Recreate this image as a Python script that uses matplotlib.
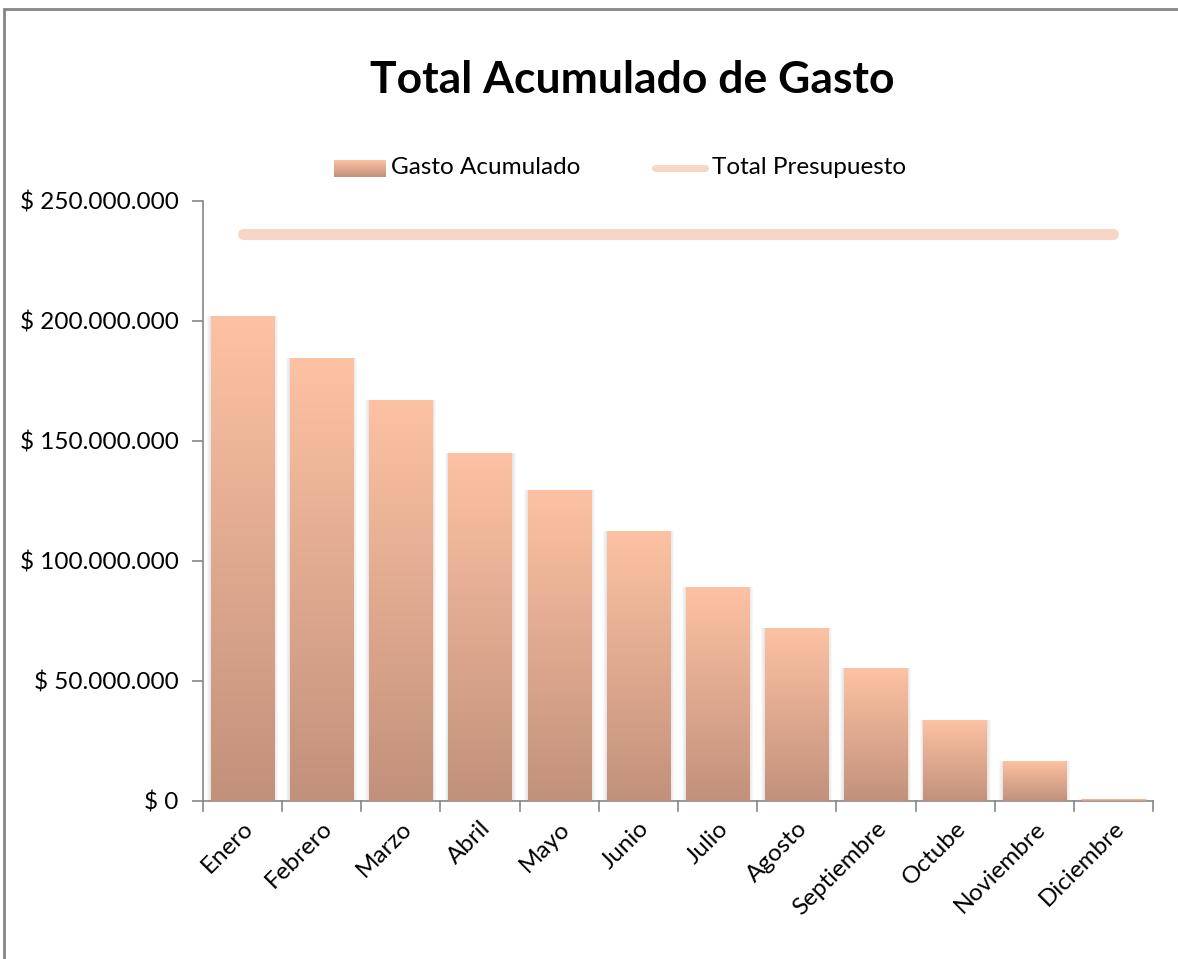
import matplotlib
matplotlib.use("Agg")
import matplotlib.pyplot as plt
import numpy as np
from matplotlib.patches import Rectangle
from matplotlib.colors import LinearSegmentedColormap
from matplotlib.ticker import FuncFormatter, MultipleLocator

plt.rcParams['font.family'] = ['Lato', 'DejaVu Sans']

meses = ["Enero", "Febrero", "Marzo", "Abril", "Mayo", "Junio", "Julio",
         "Agosto", "Septiembre", "Octube", "Noviembre", "Diciembre"]
gasto_acumulado = [202_000_000, 184_600_000, 167_000_000, 145_000_000, 129_600_000,
                   112_500_000, 89_200_000, 72_000_000, 55_400_000, 33_800_000,
                   16_700_000, 800_000]
total_presupuesto = [236_200_000] * 12

W, H = 1178, 959
fig = plt.figure(figsize=(W / 100, H / 100), dpi=100)
fig.patch.set_facecolor("white")

# outer chart frame
fig.add_artist(Rectangle((4 / W, -0.1), 2.0, 1 - 9 / H + 0.1, transform=fig.transFigure,
                         fill=False, edgecolor="#868686", linewidth=2.0))

ax = fig.add_axes([203 / W, 1 - 801 / H, (1153 - 203) / W, (801 - 201) / H])
x = np.arange(len(meses))

cmap = LinearSegmentedColormap.from_list("g", ["#C2917B", "#FDC2A3"])
grad = np.linspace(0, 1, 256).reshape(-1, 1)

bars = ax.bar(x, gasto_acumulado, width=0.8, color="none", edgecolor="none", zorder=3)
for b in bars:
    bx, by, bw, bh = b.get_x(), b.get_y(), b.get_width(), b.get_height()
    for i in range(4):
        d = 0.012 * (i + 1)
        ax.add_patch(Rectangle((bx - d, by), bw + 2 * d, bh, facecolor="#808080",
                               alpha=0.05, edgecolor="none", zorder=2))
    im = ax.imshow(grad, extent=(bx, bx + bw, by, by + bh), origin="lower",
                   cmap=cmap, aspect="auto", zorder=3, interpolation="bilinear")
    im.set_clip_path(b)
ax.set_xlim(-0.5, len(meses) - 0.5)
ax.set_ylim(0, 250_000_000)

ax.plot(x, total_presupuesto, color="#F6D6C6", linewidth=8, solid_capstyle="round",
        zorder=4, label="Total Presupuesto")

for s in ["top", "right"]:
    ax.spines[s].set_visible(False)
for s in ["left", "bottom"]:
    ax.spines[s].set_color("#868686")
    ax.spines[s].set_linewidth(1.2)

ax.yaxis.set_major_locator(MultipleLocator(50_000_000))
ax.yaxis.set_major_formatter(FuncFormatter(
    lambda v, p: "$ " + f"{int(v):,}".replace(",", ".")))
ax.tick_params(axis="y", length=8, width=1.2, color="#868686", labelsize=17.5,
               pad=9.5, labelcolor="black")

ax.set_xticks(x)
ax.set_xticklabels(meses, rotation=45, ha="right", rotation_mode="anchor", fontsize=17.5)
ax.tick_params(axis="x", length=0, pad=12)
for b in np.arange(-0.5, len(meses), 1.0):
    ax.plot([b, b], [0, -0.016], transform=ax.get_xaxis_transform(), color="#868686",
            linewidth=1.2, clip_on=False)

fig.text(632 / W, 1 - 80 / H, "Total Acumulado de Gasto", ha="center", va="center",
         fontsize=32, fontweight="bold")

# legend
leg_ax = fig.add_axes([0, 0, 1, 1], facecolor="none")
leg_ax.imshow(grad, extent=(334, 386, 177, 160), origin="lower", cmap=cmap,
              aspect="auto", zorder=2)
leg_ax.set_xlim(0, W)
leg_ax.set_ylim(H, 0)
leg_ax.axis("off")
leg_ax.text(391, 168, "Gasto Acumulado", ha="left", va="center", fontsize=17.5)
leg_ax.plot([655, 705], [168, 168], color="#F6D6C6", linewidth=5, solid_capstyle="round")
leg_ax.text(712, 168, "Total Presupuesto", ha="left", va="center", fontsize=17.5)

fig.savefig("out.png", dpi=100, facecolor="white")
